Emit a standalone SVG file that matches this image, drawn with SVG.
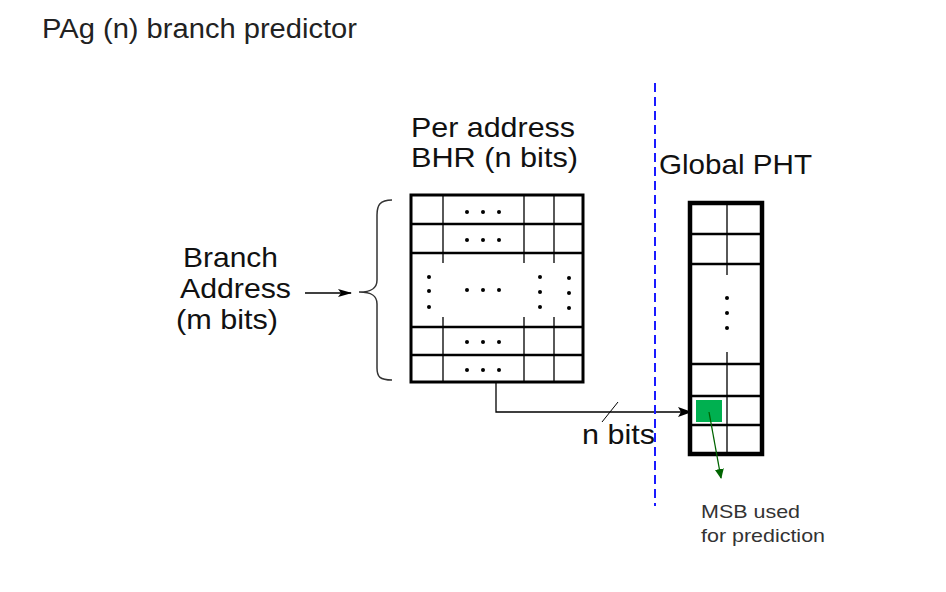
<svg xmlns="http://www.w3.org/2000/svg" width="946" height="592" viewBox="0 0 946 592">
<defs>
<style>
.t{font-family:"Liberation Sans",Arial,sans-serif;fill:#111}
.big{font-size:28px}
.thick{fill:none;stroke:#000;stroke-width:3}
.thin{stroke:#000;stroke-width:1.3;fill:none}
.row{stroke:#000;stroke-width:2.5;fill:none}
.dot{fill:#000}
</style>
<marker id="ah" markerWidth="14" markerHeight="10" refX="13" refY="5" orient="auto" markerUnits="userSpaceOnUse"><path d="M0,0 L14,5 L0,10 L3,5 z" fill="#000"/></marker>
<marker id="ahs" markerWidth="14" markerHeight="8" refX="13" refY="4" orient="auto" markerUnits="userSpaceOnUse"><path d="M0,0 L14,4 L0,8 L3,4 z" fill="#000"/></marker>
<marker id="ahg" markerWidth="10" markerHeight="9" refX="9" refY="4.5" orient="auto" markerUnits="userSpaceOnUse"><path d="M0,0 L10,4.5 L0,9 z" fill="#006400"/></marker>
</defs>
<rect width="946" height="592" fill="#fff"/>
<text class="t" x="42" y="38" style="fill:#222;font-size:27px" textLength="315" lengthAdjust="spacingAndGlyphs">PAg (n) branch predictor</text>

<g id="branch-address">
<text class="t big" x="183" y="267" textLength="95" lengthAdjust="spacingAndGlyphs">Branch</text>
<text class="t big" x="180" y="298" textLength="111" lengthAdjust="spacingAndGlyphs">Address</text>
<text class="t big" x="176" y="329" textLength="102" lengthAdjust="spacingAndGlyphs">(m bits)</text>
<path d="M392,200 C380,200 377,205 377,215 L377,280 C377,288 372,292 359,292 C372,292 377,296 377,304 L377,368 C377,377 380,380 392,380" fill="none" stroke="#333" stroke-width="1.5"/>
</g>

<g id="bhr">
<text class="t big" x="411" y="137" textLength="164" lengthAdjust="spacingAndGlyphs">Per address</text>
<text class="t big" x="411" y="167" textLength="167" lengthAdjust="spacingAndGlyphs">BHR (n bits)</text>
<rect class="thick" x="411" y="195" width="172" height="187"/>
<path class="row" d="M411,224 H583 M411,253 H583 M411,327 H583 M411,355 H583"/>
<path class="thin" d="M443,195 V263 M443,317 V382 M524,195 V263 M524,317 V382 M554,195 V263 M554,317 V382"/>
<g class="dot">
<circle cx="467" cy="212" r="2"/><circle cx="483" cy="212" r="2"/><circle cx="499" cy="212" r="2"/>
<circle cx="467" cy="240" r="2"/><circle cx="483" cy="240" r="2"/><circle cx="499" cy="240" r="2"/>
<circle cx="467" cy="290" r="2"/><circle cx="483" cy="290" r="2"/><circle cx="499" cy="290" r="2"/>
<circle cx="429" cy="277" r="2"/><circle cx="429" cy="291" r="2"/><circle cx="429" cy="307" r="2"/>
<circle cx="540" cy="277" r="2"/><circle cx="540" cy="292" r="2"/><circle cx="540" cy="307" r="2"/>
<circle cx="569" cy="278" r="2"/><circle cx="569" cy="293" r="2"/><circle cx="569" cy="308" r="2"/>
<circle cx="467" cy="342" r="2"/><circle cx="483" cy="342" r="2"/><circle cx="499" cy="342" r="2"/>
<circle cx="467" cy="370" r="2"/><circle cx="483" cy="370" r="2"/><circle cx="499" cy="370" r="2"/>
</g>
</g>

<g id="pht">
<text class="t big" x="659" y="174" textLength="153" lengthAdjust="spacingAndGlyphs">Global PHT</text>
<rect x="696" y="400" width="26" height="22" fill="#00b050"/>
<rect x="690" y="203" width="72" height="251" fill="none" stroke="#000" stroke-width="4.5"/>
<path class="row" d="M690,234 H762 M690,264 H762 M690,364 H762 M690,396 H762 M690,425 H762"/>
<path class="thin" d="M727,203 V275 M727,352 V454"/>
<g class="dot">
<circle cx="727" cy="298" r="2"/><circle cx="727" cy="313" r="2"/><circle cx="727" cy="328" r="2"/>
</g>
</g>

<g id="msb-label">
<text class="t" x="701" y="518" style="font-size:19px;fill:#333" textLength="99" lengthAdjust="spacingAndGlyphs">MSB used</text>
<text class="t" x="701" y="542" style="font-size:19px;fill:#333" textLength="124" lengthAdjust="spacingAndGlyphs">for prediction</text>
</g>

<g id="nbits-label">
<text class="t big" x="582" y="444" textLength="73" lengthAdjust="spacingAndGlyphs">n bits</text>
</g>

<g id="connectors">
<line x1="305" y1="293" x2="351" y2="293" stroke="#000" stroke-width="1.5" marker-end="url(#ahs)"/>
<path d="M496,382 V412 H691" fill="none" stroke="#000" stroke-width="1.3" marker-end="url(#ah)"/>
<line x1="602" y1="422" x2="618" y2="402" stroke="#000" stroke-width="1"/>
<line x1="709" y1="412" x2="721" y2="478" stroke="#006400" stroke-width="1.3" marker-end="url(#ahg)"/>
<line x1="655" y1="83" x2="655" y2="506" stroke="#1a1aff" stroke-width="2" stroke-dasharray="9,5"/>
</g>
</svg>
